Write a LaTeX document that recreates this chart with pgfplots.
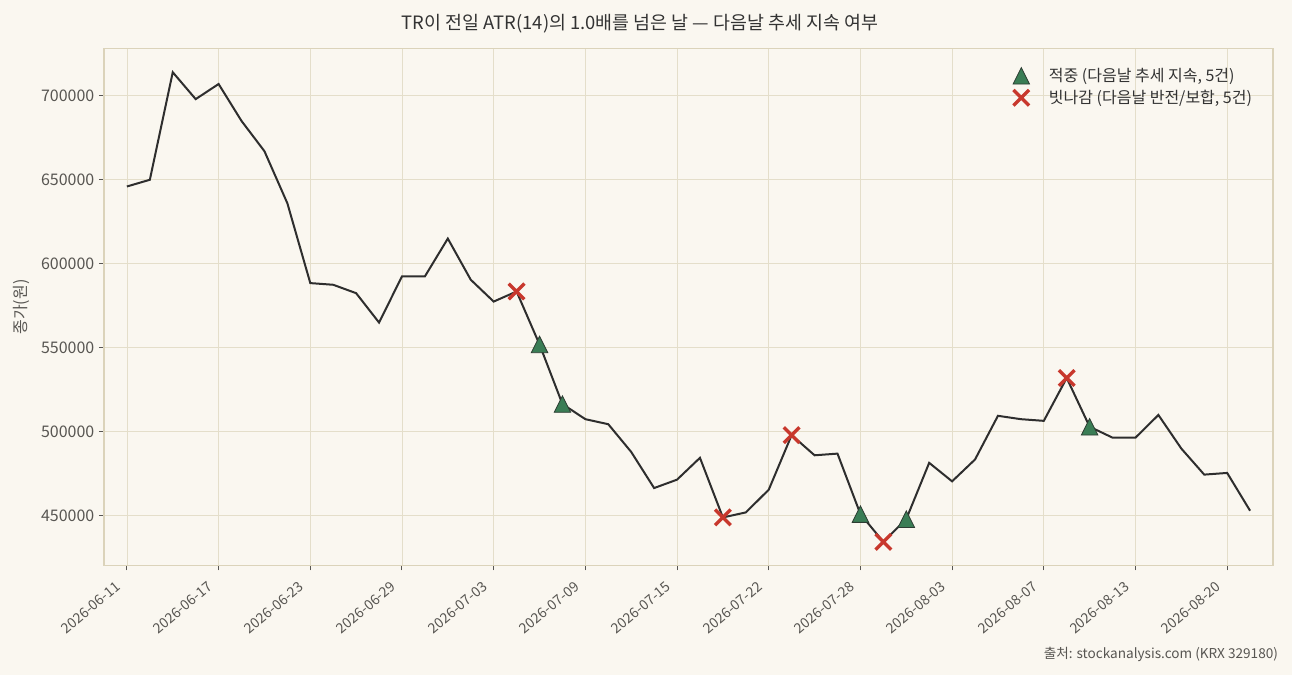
\documentclass[border=0pt]{standalone}
\usepackage{fontspec}
\setmainfont{Noto Sans CJK KR}
\usepackage{pgfplots}
\pgfplotsset{compat=1.18}
\definecolor{bg}{RGB}{250,247,240}
\definecolor{spinec}{RGB}{219,211,186}
\definecolor{gridc}{RGB}{228,222,202}
\definecolor{tickc}{RGB}{88,86,82}
\definecolor{titlec}{RGB}{51,51,51}
\definecolor{linec}{RGB}{46,46,46}
\definecolor{hitc}{RGB}{58,125,85}
\definecolor{hitedge}{RGB}{45,60,50}
\definecolor{missc}{RGB}{200,56,45}
\pgfdeclareplotmark{mtri}{%
  \pgfpathmoveto{\pgfqpoint{0pt}{\pgfplotmarksize}}%
  \pgfpathlineto{\pgfqpoint{-\pgfplotmarksize}{-\pgfplotmarksize}}%
  \pgfpathlineto{\pgfqpoint{\pgfplotmarksize}{-\pgfplotmarksize}}%
  \pgfpathclose\pgfusepathqfillstroke}
\pgfplotstableread{
idx close
0 646000
1 650000
2 714000
3 698000
4 707000
5 685000
6 667000
7 636000
8 588500
9 587500
10 582500
11 565000
12 592500
13 592500
14 615000
15 590500
16 577500
17 583500
18 552000
19 516500
20 507500
21 504500
22 488000
23 466500
24 471500
25 484500
26 449000
27 452000
28 465500
29 498000
30 486000
31 487000
32 451000
33 434500
34 448000
35 481500
36 470500
37 483500
38 509500
39 507500
40 506500
41 532000
42 503000
43 496500
44 496500
45 510000
46 490000
47 474500
48 475500
49 453000
}\closedata
\pgfplotstableread{
idx close
18 552000
19 516500
32 451000
34 448000
42 503000
}\hitdata
\pgfplotstableread{
idx close
17 583500
26 449000
29 498000
33 434500
41 532000
}\missdata
\begin{document}
\begin{tikzpicture}
\fill[bg] (-78pt,-82.25pt) rectangle (891pt,424pt);
\begin{axis}[
  at={(0,0)}, anchor=south west,
  scale only axis, width=876.75pt, height=387.45pt,
  xmin=-1, xmax=50, ymin=420500, ymax=728000,
  axis background/.style={fill=bg},
  axis line style={spinec, line width=0.8pt},
  grid=major, major grid style={gridc, line width=0.6pt},
  tick pos=left, tick align=outside, major tick length=3.75pt,
  tick style={tickc, line width=0.75pt},
  xtick={0,4,...,48},
  xticklabels={2026-06-11,2026-06-17,2026-06-23,2026-06-29,2026-07-03,2026-07-09,2026-07-15,2026-07-22,2026-07-28,2026-08-03,2026-08-07,2026-08-13,2026-08-20},
  ytick={450000,500000,...,700000},
  scaled y ticks=false,
  /pgf/number format/.cd, fixed, 1000 sep={}, assume math mode=true,
  /pgfplots/.cd,
  ticklabel style={text=tickc},
  yticklabel style={font=\fontsize{12}{14}\selectfont},
  xticklabel style={font=\fontsize{10.5}{12}\selectfont, xshift=-8.8pt, yshift=-6.2pt, rotate=40, anchor=north east, inner sep=1pt},
  ylabel={종가(원)},
  ylabel style={at={(axis description cs:-0.071,0.5)}, anchor=center, font=\fontsize{12}{14}\selectfont, text=tickc},
  legend style={draw=none, fill=none, inner sep=0pt, at={(axis description cs:0.7745,0.968)}, anchor=north west, font=\fontsize{12}{14}\selectfont, text=titlec, row sep=1pt},
  legend cell align=left,
  legend image code/.code={\path (0cm,0cm) (0.95cm,0cm); \draw[#1] plot coordinates {(0.3cm,0cm)};},
]
\addplot[linec, line width=1.5pt, forget plot] table[x=idx, y=close] {\closedata};
\addplot[only marks, mark=mtri, mark size=6.2pt, mark options={fill=hitc, draw=hitedge, line width=0.6pt}] table[x=idx, y=close] {\hitdata};
\addlegendentry{적중 (다음날 추세 지속, 5건)}
\addplot[only marks, mark=x, mark size=8.3pt, mark options={draw=missc, line width=2.5pt}] table[x=idx, y=close] {\missdata};
\addlegendentry{빗나감 (다음날 반전/보합, 5건)}
\end{axis}
\node[font=\fontsize{13.8}{16}\selectfont, text=titlec] at (402pt,406pt) {TR이 전일 ATR(14)의 1.0배를 넘은 날 — 다음날 추세 지속 여부};
\node[anchor=east, font=\fontsize{10.2}{12}\selectfont, text=tickc] at (884pt,-67pt) {출처: stockanalysis.com (KRX 329180)};
\end{tikzpicture}
\end{document}
